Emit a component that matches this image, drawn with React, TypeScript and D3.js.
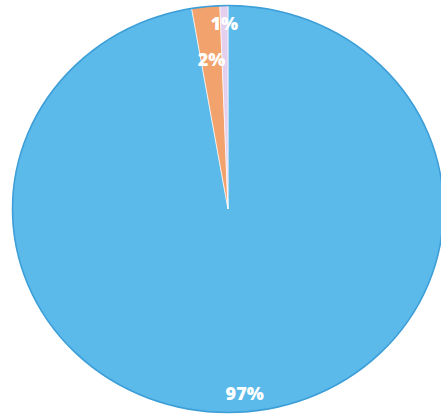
import React from "react";
import * as d3 from "d3";

const categories = ["A", "B", "C"];
const values = [97.3, 2.1, 0.6];
const labels = ["97%", "2%", "1%"];
const colors = ["#5bbaea", "#f2a26c", "#e4d0ee"];

export default function App() {
  const W = 441, H = 419;
  const cx = 228, cy = 209, R = 204, sx = 216 / 204;
  const pie = d3.pie<number>().sort(null).value((d) => d)(values);
  const arc = d3.arc<d3.PieArcDatum<number>>().innerRadius(0).outerRadius(R);
  const order = d3.range(values.length).sort((a, b) => values[a] - values[b]);
  const pos: { x: number; y: number }[] = [];
  const placed: { x: number; y: number }[] = [];
  order.forEach((i) => {
    const p = pie[i];
    const a = (p.startAngle + p.endAngle) / 2;
    let r = R * 0.91;
    let x = Math.sin(a) * r * sx, y = -Math.cos(a) * r;
    while (placed.some((q) => Math.abs(q.x - x) < 34 && Math.abs(q.y - y) < 20)) {
      r -= 36;
      x = Math.sin(a) * r * sx; y = -Math.cos(a) * r;
    }
    placed.push({ x, y });
    pos[i] = { x, y };
  });
  return (
    <svg width={W} height={H} style={{ position: "absolute", left: 0, top: 0 }}>
      <rect width={W} height={H} fill="#fff" />
      <g transform={`translate(${cx},${cy}) scale(${sx},1)`}>
        {pie.map((p, i) => (
          <path key={categories[i]} d={arc(p) || ""} fill={colors[i]} stroke="#fff" strokeWidth={0.6} />
        ))}
        <circle r={R - 0.5} fill="none" stroke="#3e9fd8" strokeWidth={1.5} />
      </g>
      <g transform={`translate(${cx},${cy})`}>
        {pos.map((l, i) => (
          <text key={labels[i]} x={l.x} y={l.y} dy="0.35em" textAnchor="middle"
            fill="#fff" fontFamily="'Open Sans', sans-serif" fontWeight={800} fontSize={18}>
            {labels[i]}
          </text>
        ))}
      </g>
    </svg>
  );
}
